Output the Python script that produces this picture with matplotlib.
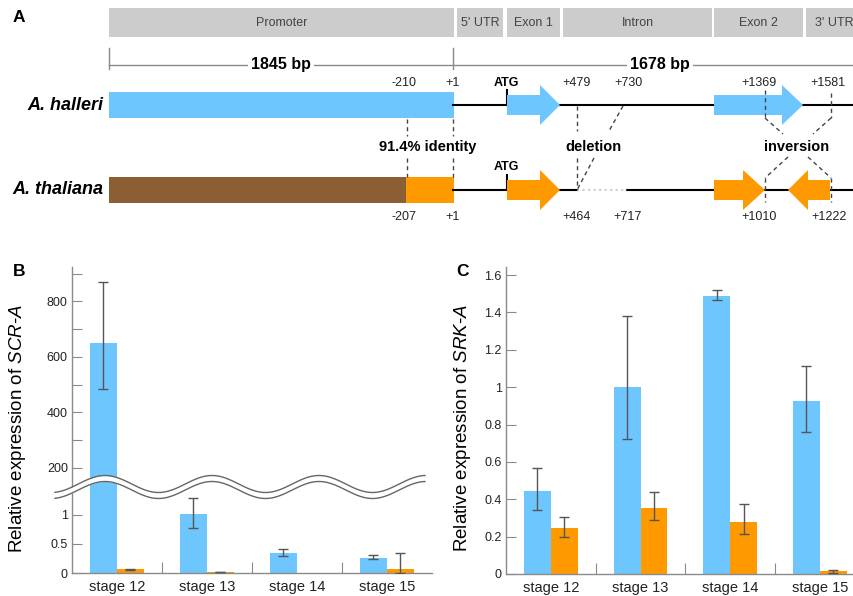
import numpy as np
import matplotlib.pyplot as plt
from matplotlib.patches import Rectangle, Polygon

plt.rcParams['font.family'] = ['Liberation Sans', 'DejaVu Sans']
plt.rcParams['mathtext.fontset'] = 'custom'
plt.rcParams['mathtext.it'] = 'Liberation Sans:italic'
plt.rcParams['mathtext.rm'] = 'Liberation Sans'

BLUE = '#6EC6FF'
ORANGE = '#FF9900'
BROWN = '#8C5E34'
GREY = '#8a8a8a'
ERR = '#555555'

# panel A: gene structure, x positions in figure pixels
regions = ['Promoter', "5' UTR", 'Exon 1', 'Intron', 'Exon 2', "3' UTR"]
region_x0 = [109, 457, 507, 563, 714, 806]
region_x1 = [454, 503, 560, 712, 803, 862]
lengths = ['1845 bp', '1678 bp']
length_x = [281, 660]
halleri_marks = ['-210', '+1', '+479', '+730', '+1369', '+1581']
halleri_marks_x = [404, 453, 577, 628, 759, 828]
thaliana_marks = ['-207', '+1', '+464', '+717', '+1010', '+1222']
thaliana_marks_x = [404, 453, 577, 628, 759, 829]

# panels B and C: qRT-PCR
stages = ['stage 12', 'stage 13', 'stage 14', 'stage 15']
scr_halleri = [652, 1.01, 0.35, 0.26]
scr_halleri_lo = [167, 0.24, 0.06, 0.025]
scr_halleri_hi = [217, 0.28, 0.06, 0.05]
scr_thaliana = [0.064, 0.02, 0.0, 0.069]
scr_thaliana_lo = [0.005, 0.005, 0.0, 0.069]
scr_thaliana_hi = [0.005, 0.005, 0.0, 0.27]

srk_halleri = [0.445, 1.0, 1.49, 0.925]
srk_halleri_lo = [0.10, 0.28, 0.024, 0.165]
srk_halleri_hi = [0.12, 0.38, 0.028, 0.19]
srk_thaliana = [0.244, 0.352, 0.28, 0.016]
srk_thaliana_lo = [0.044, 0.063, 0.064, 0.008]
srk_thaliana_hi = [0.06, 0.088, 0.096, 0.008]

fig = plt.figure(figsize=(8.54, 5.96), dpi=100)
axB = fig.add_axes([72 / 854, 23 / 596, 360 / 854, 306 / 596])
axC = fig.add_axes([506 / 854, 22 / 596, 348 / 854, 307 / 596])
ax = fig.add_axes([0, 0, 1, 1], zorder=5)
ax.set_xlim(0, 854)
ax.set_ylim(596, 0)
ax.axis('off')

# ---- panel A
for name, x0, x1 in zip(regions, region_x0, region_x1):
    ax.add_patch(Rectangle((x0, 8), x1 - x0, 29, fc='#cccccc', ec='none'))
    ax.text((x0 + x1) / 2, 23, name, ha='center', va='center', fontsize=9, color='#444444')

ax.plot([109, 854], [65, 65], color=GREY, lw=1)
for xt in [109, 453]:
    ax.plot([xt, xt], [48, 69], color=GREY, lw=1)
for s, xt in zip(lengths, length_x):
    ax.text(xt, 65, s, ha='center', va='center', fontsize=11.5, fontweight='bold',
            bbox=dict(fc='white', ec='none', pad=2))

ax.text(103, 105, 'A. halleri', ha='right', va='center', fontsize=13, fontweight='bold', style='italic')
ax.text(103, 190, 'A. thaliana', ha='right', va='center', fontsize=13, fontweight='bold', style='italic')

ax.add_patch(Rectangle((109, 92), 345, 26, fc=BLUE, ec='none'))
ax.add_patch(Rectangle((109, 177), 297, 26, fc=BROWN, ec='none'))
ax.add_patch(Rectangle((406, 177), 48, 26, fc=ORANGE, ec='none'))

ax.plot([453, 854], [105, 105], color='k', lw=1.5)
ax.plot([453, 577], [190, 190], color='k', lw=1.5)
ax.plot([627, 854], [190, 190], color='k', lw=1.5)
ax.plot([577, 627], [190, 190], color='#cccccc', lw=1.5, ls=':')

for yl, yt in [(90, 83), (175, 167)]:
    ax.plot([507, 507], [yl, yl + 15], color='k', lw=1.5)
    ax.text(506, yt, 'ATG', ha='center', va='center', fontsize=9, fontweight='bold')


def arrow(x0, x1, xh, yc, color):
    pts = [(x0, yc - 10), (xh, yc - 10), (xh, yc - 20), (x1, yc),
           (xh, yc + 20), (xh, yc + 10), (x0, yc + 10)]
    ax.add_patch(Polygon(pts, closed=True, fc=color, ec='none', zorder=3))


arrow(507, 560, 540, 105, BLUE)
arrow(714, 803, 782, 105, BLUE)
arrow(507, 560, 540, 190, ORANGE)
arrow(714, 765, 743, 190, ORANGE)
arrow(830, 788, 808, 190, ORANGE)

for s, xt in zip(halleri_marks, halleri_marks_x):
    ax.text(xt, 83, s, ha='center', va='center', fontsize=9, color='#222222')
for s, xt in zip(thaliana_marks, thaliana_marks_x):
    ax.text(xt, 217, s, ha='center', va='center', fontsize=9, color='#222222')


def dash(x0, y0, x1, y1):
    ax.plot([x0, x1], [y0, y1], color='#444444', lw=1, dashes=(3, 2.5), zorder=4)


for xd in [407, 453]:
    dash(xd, 119, xd, 136)
    dash(xd, 158, xd, 177)
dash(577, 106, 577, 131)
dash(577, 158, 577, 190)
dash(623, 106, 609, 131)
dash(594, 158, 577, 190)
dash(765, 90, 765, 118)
dash(831, 93, 831, 118)
dash(765, 118, 783, 134)
dash(831, 118, 813, 134)
dash(788, 157, 765, 178)
dash(808, 157, 831, 178)
dash(765, 178, 765, 202)
dash(831, 178, 831, 202)

ax.text(428, 147, '91.4% identity', ha='center', va='center', fontsize=10.5, fontweight='bold')
ax.text(593, 147, 'deletion', ha='center', va='center', fontsize=10.5, fontweight='bold')
ax.text(797, 147, 'inversion', ha='center', va='center', fontsize=10.5, fontweight='bold')

for s, xl, yl in [('A', 19, 18), ('B', 19, 272), ('C', 463, 272)]:
    ax.text(xl, yl, s, ha='center', va='center', fontsize=12.5, fontweight='bold')

# axis break wave for panel B
xs = np.linspace(55, 425, 300)
top = 484 - 8.5 * np.cos(2 * np.pi * (xs - 105) / 107)
ax.fill_between(xs, top, top + 6, color='white', lw=0)
ax.plot(xs, top, color='#666666', lw=1)
ax.plot(xs, top + 6, color='#666666', lw=1)

# ---- panels B and C
x = np.arange(len(stages))
w = 0.3


def style(a):
    for s in ['top', 'right']:
        a.spines[s].set_visible(False)
    for s in ['left', 'bottom']:
        a.spines[s].set_color(GREY)
        a.spines[s].set_linewidth(1)
    a.tick_params(axis='y', which='both', direction='in', length=7, width=0.8,
                  color=GREY, labelsize=9, labelcolor='#222222', pad=3)
    a.set_xticks([0.5, 1.5, 2.5])
    a.set_xticklabels([])
    a.set_xticks(x, minor=True)
    a.set_xticklabels(stages, minor=True)
    a.tick_params(axis='x', which='major', direction='in', length=8, width=0.8, color=GREY)
    a.tick_params(axis='x', which='minor', length=0, labelsize=10.5, pad=5, labelcolor='#222222')


def bars(a, vals, lo, hi, offset, color):
    a.bar(x + offset, vals, w, color=color, zorder=2)
    vals = np.array(vals)
    keep = vals > 0
    a.errorbar((x + offset)[keep], vals[keep],
               yerr=[np.array(lo)[keep], np.array(hi)[keep]],
               fmt='none', ecolor=ERR, elinewidth=1, capsize=3.5, capthick=1, zorder=3)


# broken y axis for SCR-A: linear below 1.4, compressed linear above 200
v_knots = [0, 1.4, 200, 10000]
f_knots = [0, 1.4, 1.81, 1.81 + 9800 * 0.004784]


def fwd(v):
    return np.interp(v, v_knots, f_knots)


def inv(f):
    return np.interp(f, f_knots, v_knots)


axB.set_yscale('function', functions=(fwd, inv))
bars(axB, scr_halleri, scr_halleri_lo, scr_halleri_hi, -w / 2, BLUE)
bars(axB, scr_thaliana, scr_thaliana_lo, scr_thaliana_hi, w / 2, ORANGE)
axB.set_xlim(-0.5, 3.5)
axB.set_ylim(0, 924)
style(axB)
axB.set_yticks([0, 0.5, 1, 200, 400, 600, 800])
axB.set_yticklabels(['0', '0.5', '1', '200', '400', '600', '800'])
axB.set_yticks([300, 500, 700, 900], minor=True)
axB.set_yticklabels([], minor=True)
axB.set_ylabel(r'Relative expression of $\mathit{SCR}$-$\mathit{A}$', fontsize=13.5, va='center')
axB.yaxis.set_label_coords((18 - 72) / 360, (573 - 428) / 306)

bars(axC, srk_halleri, srk_halleri_lo, srk_halleri_hi, -w / 2, BLUE)
bars(axC, srk_thaliana, srk_thaliana_lo, srk_thaliana_hi, w / 2, ORANGE)
axC.set_xlim(-0.5, 3.38)
axC.set_ylim(0, 1.643)
style(axC)
yt = np.arange(0, 1.61, 0.2)
axC.set_yticks(yt)
axC.set_yticklabels([f'{v:g}' for v in np.round(yt, 1)])
axC.set_ylabel(r'Relative expression of $\mathit{SRK}$-$\mathit{A}$', fontsize=13.5, va='center')
axC.yaxis.set_label_coords((463 - 506) / 348, (574 - 428) / 307)

fig.savefig('out.png', dpi=100)
